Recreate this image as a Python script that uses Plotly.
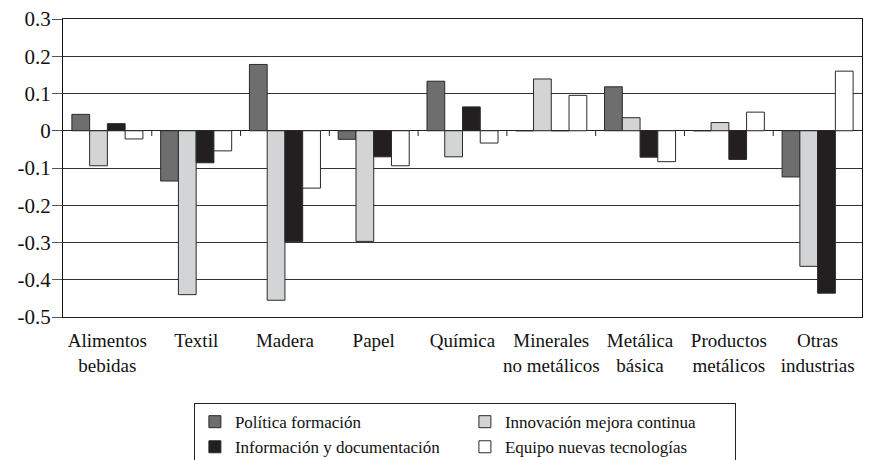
import plotly.graph_objects as go

categories = ["Alimentos<br>bebidas", "Textil", "Madera", "Papel", "Química",
              "Minerales<br>no metálicos", "Metálica<br>básica", "Productos<br>metálicos",
              "Otras<br>industrias"]

politica_formacion = [0.044, -0.135, 0.178, -0.023, 0.133, 0.0, 0.118, 0.0, -0.124]
innovacion_mejora = [-0.094, -0.440, -0.455, -0.297, -0.070, 0.139, 0.035, 0.022, -0.364]
informacion_doc = [0.019, -0.086, -0.297, -0.070, 0.064, 0.0, -0.071, -0.077, -0.436]
equipo_tecnologias = [-0.022, -0.054, -0.154, -0.094, -0.033, 0.095, -0.083, 0.050, 0.160]

series_names = ["Política formación", "Innovación mejora continua",
                "Información y documentación", "Equipo nuevas tecnologías"]
series_values = [politica_formacion, innovacion_mejora, informacion_doc, equipo_tecnologias]
series_colors = ["#6e6e6e", "#d3d4d6", "#231f20", "#ffffff"]

y_tickvals = [0.3, 0.2, 0.1, 0, -0.1, -0.2, -0.3, -0.4, -0.5]
y_ticktext = ["0.3", "0.2", "0.1", "0", "-0.1", "-0.2", "-0.3", "-0.4", "-0.5"]

FONT = "Liberation Serif"

fig = go.Figure()
for name, vals, col in zip(series_names, series_values, series_colors):
    fig.add_trace(go.Bar(
        x=categories, y=vals, name=name,
        marker=dict(color=col, line=dict(color="#2a2a2a", width=1)),
    ))

# small separator ticks on the zero line between categories
shapes = []
for i in range(len(categories) - 1):
    shapes.append(dict(type="line", xref="x", yref="y",
                       x0=i + 0.5, x1=i + 0.5, y0=0, y1=-0.014,
                       line=dict(color="#222", width=1)))

# page body adds an 8px margin, so the figure is sized 8px smaller
fig.update_layout(
    width=863, height=452,
    margin=dict(l=55, r=9, t=11, b=143, autoexpand=False),
    paper_bgcolor="white", plot_bgcolor="white",
    barmode="group", bargap=0.2, bargroupgap=0,
    font=dict(family=FONT, color="#111", size=17),
    showlegend=True,
    legend=dict(
        orientation="h", x=0.503, xanchor="center", y=-0.289, yanchor="top",
        entrywidth=225, entrywidthmode="pixels",
        bordercolor="#222", borderwidth=1,
        font=dict(family=FONT, size=17, color="#111"),
        traceorder="normal", tracegroupgap=0, itemwidth=30,
    ),
    shapes=shapes,
)

fig.update_xaxes(
    showline=True, linecolor="#222", linewidth=1, mirror=True,
    showgrid=False, ticks="", automargin=False, ticklabelstandoff=6,
    tickfont=dict(family=FONT, size=19, color="#111"),
)
fig.update_yaxes(
    range=[-0.5, 0.3], tickvals=y_tickvals, ticktext=y_ticktext,
    showline=True, linecolor="#111", linewidth=1, mirror=True,
    showgrid=True, gridcolor="#333", gridwidth=1,
    zeroline=True, zerolinecolor="#222", zerolinewidth=1,
    ticks="outside", ticklen=10, tickcolor="#555", automargin=False,
    ticklabelstandoff=-3, ticklabeloverflow="allow",
    tickfont=dict(family=FONT, size=21, color="#111"),
)

fig.write_html("out.html")
